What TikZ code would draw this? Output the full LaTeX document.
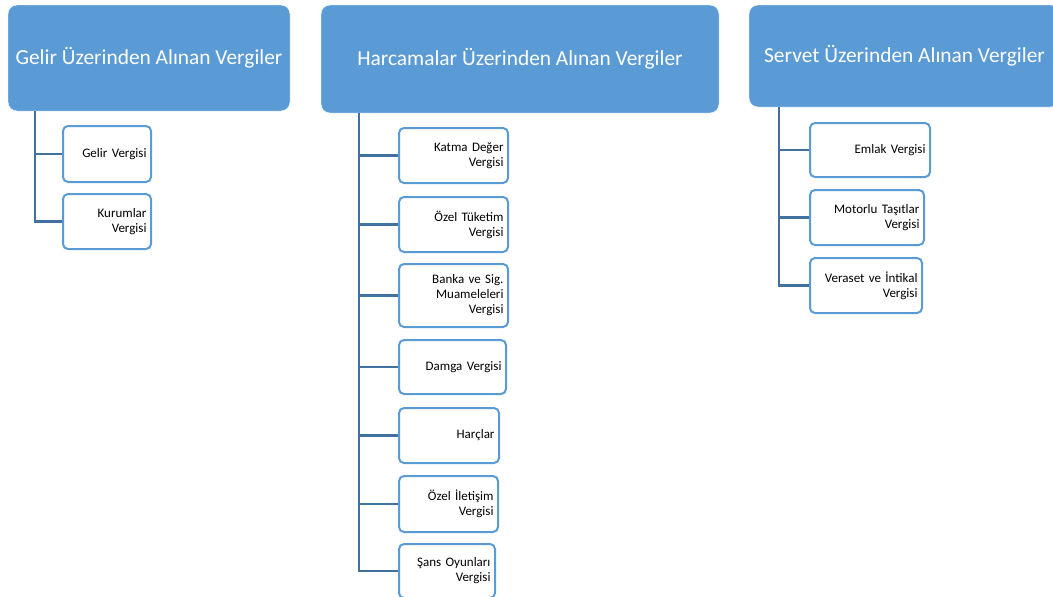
\documentclass[tikz,border=0pt]{standalone}
\usepackage{fontspec}
\setmainfont{Carlito}
\definecolor{boxblue}{HTML}{5B9BD5}
\definecolor{lineblue}{HTML}{41719C}
\tikzset{x=1pt,y=-1pt,
    header/.style={
        draw=white,
        thin,
        fill=boxblue,
        rounded corners=9pt,
        text=white,
        font=\fontsize{21.4}{25}\selectfont},
    leaf/.style={
        draw=boxblue,
        line width=2pt,
        fill=white,
        rounded corners=5pt,
        align=right,
        inner xsep=3.5pt,
        font=\fontsize{13}{15}\selectfont},
    conn/.style={
        draw=lineblue,
        line width=2.5pt}}
\begin{document}
\begin{tikzpicture}
    \useasboundingbox (0,0) rectangle (1053,597);
    \clip (0,0) rectangle (1053,597);

    % headers
    \node[header,minimum width=282,minimum height=106] (gelir) at (149,58) {Gelir Üzerinden Alınan Vergiler};
    \node[header,minimum width=398,minimum height=108] (harcama) at (520,59) {Harcamalar Üzerinden Alınan Vergiler};
    \node[header,minimum width=311,minimum height=102] (servet) at (904.5,56) {Servet Üzerinden Alınan Vergiler};

    % gelir
    \node[leaf,minimum width=88,minimum height=56,text width=79] (gv) at (107,154) {Gelir Vergisi};
    \node[leaf,minimum width=88,minimum height=55,text width=79] (kv) at (107,221.5) {Kurumlar\\Vergisi};

    % harcamalar
    \node[leaf,minimum width=109,minimum height=55,text width=100] (kdv) at (453.5,155.5) {Katma Değer\\Vergisi};
    \node[leaf,minimum width=109,minimum height=55,text width=100] (otv) at (453.5,224.5) {Özel Tüketim\\Vergisi};
    \node[leaf,minimum width=109,minimum height=63,text width=100] (bsmv) at (453.5,295.5) {Banka ve Sig.\\Muameleleri\\Vergisi};
    \node[leaf,minimum width=107,minimum height=54,text width=98] (dv) at (452.5,367) {Damga Vergisi};
    \node[leaf,minimum width=100,minimum height=55,text width=91] (harc) at (449,435.5) {Harçlar};
    \node[leaf,minimum width=99,minimum height=56,text width=90] (oiv) at (448.5,504) {Özel İletişim\\Vergisi};
    \node[leaf,minimum width=96,minimum height=54,text width=87] (sov) at (447,571) {Şans Oyunları\\Vergisi};

    % servet
    \node[leaf,minimum width=120,minimum height=54,text width=111] (ev) at (870,150) {Emlak Vergisi};
    \node[leaf,minimum width=114,minimum height=55,text width=105] (mtv) at (867,217.5) {Motorlu Taşıtlar\\Vergisi};
    \node[leaf,minimum width=112,minimum height=55,text width=103] (viv) at (866,285.5) {Veraset ve İntikal\\Vergisi};

    % trunks
    \coordinate (t1) at (35,111);
    \coordinate (t2) at (359,113);
    \coordinate (t3) at (779,107);

    \draw[conn] (t1) |- (gv.west);
    \draw[conn] (t1) |- (kv.west);

    \draw[conn] (t2) |- (kdv.west);
    \draw[conn] (t2) |- (otv.west);
    \draw[conn] (t2) |- (bsmv.west);
    \draw[conn] (t2) |- (dv.west);
    \draw[conn] (t2) |- (harc.west);
    \draw[conn] (t2) |- (oiv.west);
    \draw[conn] (t2) |- (sov.west);

    \draw[conn] (t3) |- (ev.west);
    \draw[conn] (t3) |- (mtv.west);
    \draw[conn] (t3) |- (viv.west);
\end{tikzpicture}
\end{document}
